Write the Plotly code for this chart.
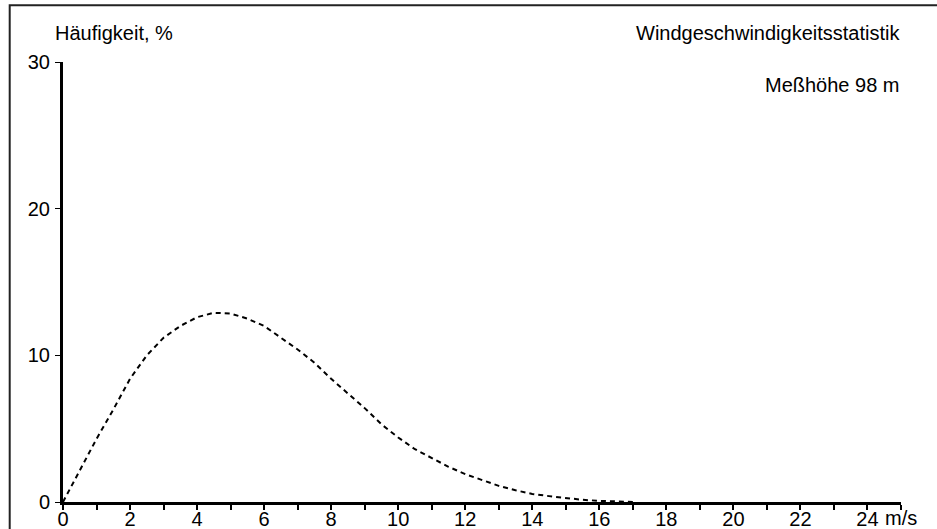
import plotly.graph_objects as go

# Wind speed classes (m/s) and their relative frequency (%)
wind_speed = [0, 0.5, 1, 1.5, 2, 2.5, 3, 3.5, 4, 4.5, 5, 5.5, 6, 6.5, 7, 7.5, 8,
              8.5, 9, 9.5, 10, 10.5, 11, 11.5, 12, 12.5, 13, 13.5, 14, 14.5, 15,
              15.5, 16, 16.5, 17]
frequency = [0.0, 2.2, 4.3, 6.3, 8.4, 10.0, 11.2, 12.0, 12.6, 12.9, 12.85, 12.5,
             12.0, 11.2, 10.4, 9.5, 8.4, 7.4, 6.4, 5.3, 4.4, 3.6, 3.0, 2.4, 1.9,
             1.5, 1.1, 0.8, 0.55, 0.4, 0.27, 0.15, 0.08, 0.03, 0.0]

x_tick_values = list(range(0, 25, 2))
y_tick_values = [0, 10, 20, 30]

title_text = "Windgeschwindigkeitsstatistik"
height_text = "Meßhöhe 98 m"
y_label = "Häufigkeit, %"
x_unit = "m/s"

FONT = "Liberation Sans, Arial, sans-serif"
FS = 20

fig = go.Figure()
fig.add_trace(go.Scatter(
    x=wind_speed, y=frequency, mode="lines",
    line=dict(color="black", width=2, dash="5px,4px"),
    showlegend=False, hoverinfo="skip",
))

fig.update_layout(
    width=937, height=529,
    margin=dict(l=63, r=36, t=62, b=27, autoexpand=False),
    paper_bgcolor="white", plot_bgcolor="white",
    font=dict(family=FONT, size=FS, color="black"),
    xaxis=dict(
        range=[0, 25], tickmode="array", tickvals=x_tick_values,
        showgrid=False, zeroline=False, automargin=False,
        showline=True, linecolor="black", linewidth=3,
        ticks="outside", ticklen=5, tickwidth=1.5, tickcolor="black",
        ticklabelstandoff=-8,
        minor=dict(dtick=1, tick0=0, ticks="outside", ticklen=5,
                   tickwidth=1.5, tickcolor="black", showgrid=False),
        tickfont=dict(family=FONT, size=FS, color="black"),
    ),
    yaxis=dict(
        range=[0, 30], tickmode="array", tickvals=y_tick_values,
        showgrid=False, zeroline=False, automargin=False,
        showline=True, linecolor="black", linewidth=3,
        ticks="outside", ticklen=5, tickwidth=1, tickcolor="black",
        ticklabelstandoff=1,
        tickfont=dict(family=FONT, size=FS, color="black"),
    ),
)

# Outer frame (extends past the right and bottom edges of the page)
fig.add_shape(type="rect", xref="paper", yref="paper",
              x0=-0.0636, x1=1.2, y0=-0.2, y1=1.129,
              line=dict(color="#222222", width=2), fillcolor="rgba(0,0,0,0)",
              layer="below")

fig.add_annotation(text=y_label, xref="paper", yref="paper",
                   x=-0.0125, y=1.067, xanchor="left", yanchor="middle",
                   showarrow=False, font=dict(family=FONT, size=FS, color="black"))
fig.add_annotation(text=title_text, xref="paper", yref="paper",
                   x=1.0012, y=1.067, xanchor="right", yanchor="middle",
                   showarrow=False, font=dict(family=FONT, size=FS, color="black"))
fig.add_annotation(text=height_text, xref="paper", yref="paper",
                   x=1.0012, y=0.948, xanchor="right", yanchor="middle",
                   showarrow=False, font=dict(family=FONT, size=FS, color="black"))
fig.add_annotation(text=x_unit, xref="x", yref="paper",
                   x=24, y=-0.036, xanchor="left", yanchor="middle", xshift=16,
                   showarrow=False, font=dict(family=FONT, size=FS, color="black"))

fig.write_html("out.html")
